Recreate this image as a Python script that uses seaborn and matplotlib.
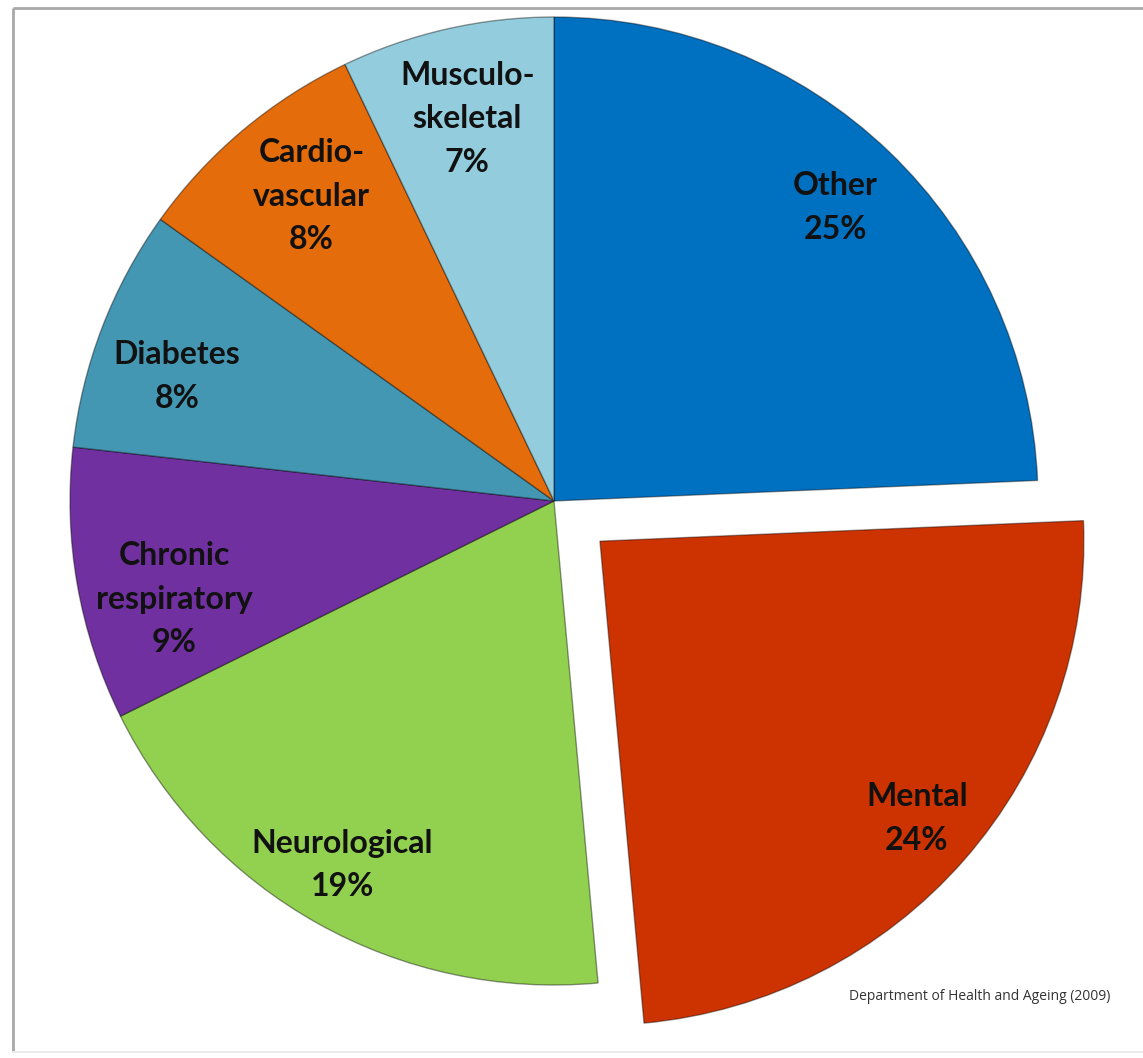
import numpy as np
import matplotlib
matplotlib.use("Agg")
import matplotlib.pyplot as plt
import seaborn as sns

sns.set_theme(style="white")
plt.rcParams['font.family'] = ['Lato', 'DejaVu Sans']

# ---- data ----
categories = ["Other", "Mental", "Neurological", "Chronic respiratory",
              "Diabetes", "Cardiovascular", "Musculoskeletal"]
label_texts = ["Other", "Mental", "Neurological", "Chronic\nrespiratory",
               "Diabetes", "Cardio-\nvascular", "Musculo-\nskeletal"]
shares = [24.3, 24.2, 19.1, 9.1, 8.1, 8.0, 7.1]
pct_labels = ["25%", "24%", "19%", "9%", "8%", "8%", "7%"]
colors = ["#0070C0", "#CC3300", "#92D050", "#7030A0",
          "#4397B3", "#E46C0A", "#93CDDD"]
source = "Department of Health and Ageing (2009)"

# ---- layout (pixel units) ----
W, H = 1143, 1058
cx, cy_top = 554, 501
R = 484
explode = [0, 61, 0, 0, 0, 0, 0]
label_frac = [0.84, 0.87, 0.87, 0.81, 0.82, 0.805, 0.81]
label_dang = [0.0, 0.0, -1.0, 4.5, 2.7, -1.5, 0.0]

fig = plt.figure(figsize=(W / 100, H / 100), dpi=100)
ax = fig.add_axes([0, 0, 1, 1])
wedges, _ = ax.pie(shares, colors=colors, startangle=90, counterclock=False,
                   radius=R, center=(cx, H - cy_top), explode=explode,
                   wedgeprops=dict(edgecolor=(0, 0, 0, 0.4), linewidth=1.0))
ax.set_xlim(0, W)
ax.set_ylim(0, H)
ax.set_aspect('equal')
ax.axis('off')

for w, lab, pct, f, da in zip(wedges, label_texts, pct_labels, label_frac, label_dang):
    th = np.deg2rad((w.theta1 + w.theta2) / 2 + da)
    x0, y0 = w.center
    x = x0 + f * R * np.cos(th)
    y = y0 + f * R * np.sin(th)
    ax.text(x, y, lab + "\n" + pct, ha='center', va='center',
            fontsize=23, fontweight='bold', color='#111111',
            linespacing=1.6)

# source note
ax.text(1110, H - 997, source, ha='right', va='center', fontsize=10,
        color='#333333', family=['Open Sans', 'DejaVu Sans'])

# outer frame
ax.plot([13, W], [H - 8, H - 8], color='#A8A8A8', lw=2, solid_capstyle='butt')
ax.plot([13, 13], [H - 8, H - 1052], color='#A8A8A8', lw=2, solid_capstyle='butt')
ax.plot([13, W], [H - 1052, H - 1052], color='#EBEBEB', lw=1.5)

fig.savefig("out.png", dpi=100, facecolor='white')
